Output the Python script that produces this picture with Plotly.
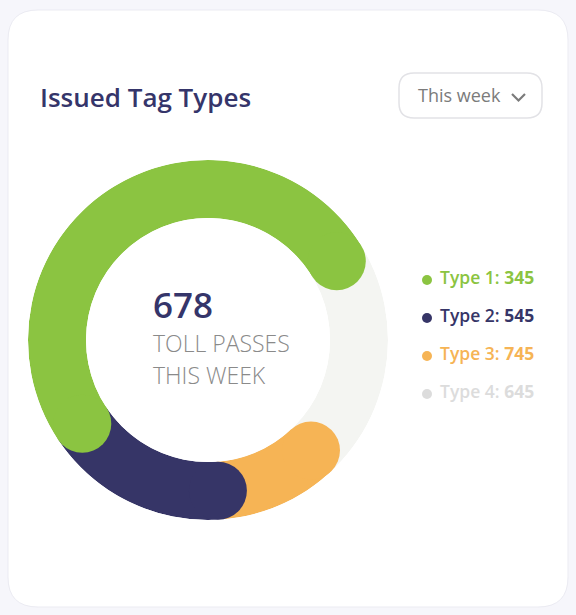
import plotly.graph_objects as go

# ---------------- data ----------------
categories = ["Type 1", "Type 2", "Type 3", "Type 4"]
counts = [345, 545, 745, 645]
colors = ["#8bc441", "#363567", "#f6b455", "#dcdcdc"]
# share of the ring (percent), drawn clockwise in this order
ring_order = ["Type 3", "Type 2", "Type 1"]
ring_share = [10.9, 16.7, 50.6]      # Type 3, Type 2, Type 1 ; rest = track
ring_start_deg = 137                  # clockwise from 12 o'clock
total_passes = 678
center_lines = ["TOLL PASSES", "THIS WEEK"]
track_color = "#f4f5f2"

W, H = 576, 615


def fx(p):
    return p / W


def fy(p):
    return 1 - p / H


def rrect(x0, y0, x1, y1, r):
    """rounded rectangle path in paper fractions from pixel box"""
    pts = [
        f"M {fx(x0 + r)} {fy(y0)}",
        f"L {fx(x1 - r)} {fy(y0)}",
        f"Q {fx(x1)} {fy(y0)} {fx(x1)} {fy(y0 + r)}",
        f"L {fx(x1)} {fy(y1 - r)}",
        f"Q {fx(x1)} {fy(y1)} {fx(x1 - r)} {fy(y1)}",
        f"L {fx(x0 + r)} {fy(y1)}",
        f"Q {fx(x0)} {fy(y1)} {fx(x0)} {fy(y1 - r)}",
        f"L {fx(x0)} {fy(y0 + r)}",
        f"Q {fx(x0)} {fy(y0)} {fx(x0 + r)} {fy(y0)}",
        "Z",
    ]
    return " ".join(pts)


fig = go.Figure()

# background track
fig.add_trace(go.Barpolar(r=[1], theta=[180], width=[360], base=0,
                          marker=dict(color=track_color, line=dict(width=0)),
                          hoverinfo="skip", showlegend=False))

col_of = dict(zip(categories, colors))
starts, ends = [], []
a = ring_start_deg
for name, share in zip(ring_order, ring_share):
    span = share * 3.6
    starts.append(a)
    ends.append(a + span)
    fig.add_trace(go.Barpolar(r=[1], theta=[a + span / 2], width=[span], base=0,
                              marker=dict(color=col_of[name], line=dict(width=0)),
                              hoverinfo="skip", showlegend=False))
    a += span

# rounded caps: start of every segment + end of the last one
cap_theta = starts + [ends[-1]]
cap_cols = [col_of[n] for n in ring_order] + [col_of[ring_order[-1]]]
ring_px = 58
fig.add_trace(go.Scatterpolar(r=[0.5] * len(cap_theta), theta=cap_theta, mode="markers",
                              marker=dict(size=ring_px, color=cap_cols, line=dict(width=0)),
                              cliponaxis=False, hoverinfo="skip", showlegend=False))

# legend (dots + texts) on a hidden cartesian axis
fig.add_trace(go.Scatter(x=[0] * 4, y=categories, mode="markers",
                         marker=dict(size=10, color=colors, line=dict(width=0)),
                         hoverinfo="skip", showlegend=False))
fig.add_trace(go.Scatter(x=[13] * 4, y=categories, mode="text",
                         text=[f"{c}: <b>{v}</b>" for c, v in zip(categories, counts)],
                         textposition="middle right",
                         textfont=dict(family="Open Sans", size=17.5, color=colors, weight=600),
                         hoverinfo="skip", showlegend=False))

cx, cy, R = 208, 340, 180
hole = 122 / 180

fig.update_layout(
    width=W, height=H, margin=dict(l=0, r=0, t=0, b=0),
    paper_bgcolor="#f6f6fb", plot_bgcolor="rgba(0,0,0,0)",
    polar=dict(
        domain=dict(x=[fx(cx - R), fx(cx + R)], y=[fy(cy + R), fy(cy - R)]),
        hole=hole, bgcolor="rgba(0,0,0,0)",
        radialaxis=dict(visible=False, range=[0, 1]),
        angularaxis=dict(visible=False, rotation=90, direction="clockwise"),
        barmode="overlay",
    ),
    xaxis=dict(domain=[fx(417), fx(567)], range=[-10, 140], visible=False, fixedrange=True),
    yaxis=dict(domain=[fy(413), fy(261)], range=[3.5, -0.5], visible=False,
               type="category", fixedrange=True),
    showlegend=False,
    shapes=[
        dict(type="path", path=rrect(8, 10, 568, 607, 30), xref="paper", yref="paper",
             fillcolor="#ffffff", line=dict(color="#ebebf2", width=1), layer="below"),
        dict(type="path", path=rrect(399, 73, 542, 118, 15), xref="paper", yref="paper",
             fillcolor="#ffffff", line=dict(color="#e2e2e6", width=1.5), layer="below"),
        dict(type="path",
             path=f"M {fx(512)} {fy(94)} L {fx(518.5)} {fy(100.5)} L {fx(525)} {fy(94)}",
             xref="paper", yref="paper", line=dict(color="#7b7b7b", width=2.2)),
    ],
    annotations=[
        dict(text="Issued Tag Types", x=fx(38), y=fy(97), xref="paper", yref="paper",
             xanchor="left", yanchor="middle", showarrow=False,
             font=dict(family="Open Sans", size=26, color="#35356a", weight=600)),
        dict(text="This week", x=fx(416), y=fy(95), xref="paper", yref="paper",
             xanchor="left", yanchor="middle", showarrow=False,
             font=dict(family="Open Sans", size=18, color="#7b7b7b", weight=500)),
        dict(text=str(total_passes), x=fx(151), y=fy(304), xref="paper", yref="paper",
             xanchor="left", yanchor="middle", showarrow=False,
             font=dict(family="Open Sans", size=35, color="#35356a", weight=600)),
        dict(text=center_lines[0], x=fx(151), y=fy(343), xref="paper", yref="paper",
             xanchor="left", yanchor="middle", showarrow=False,
             font=dict(family="Open Sans", size=23, color="#8a8a8a", weight=300)),
        dict(text=center_lines[1], x=fx(151), y=fy(375), xref="paper", yref="paper",
             xanchor="left", yanchor="middle", showarrow=False,
             font=dict(family="Open Sans", size=23, color="#8a8a8a", weight=300)),
    ],
)

fig.write_html("out.html")
